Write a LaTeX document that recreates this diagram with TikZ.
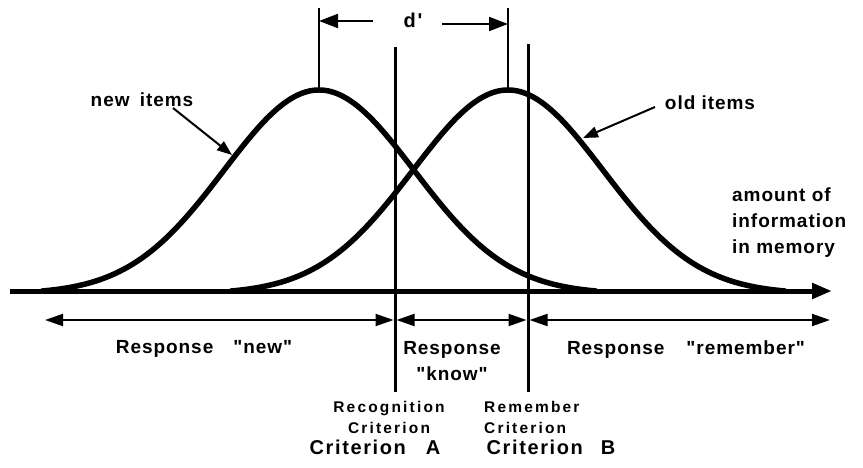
\documentclass[tikz,border=0pt]{standalone}
\usepackage{fontspec}
\newfontfamily\lblfont{Liberation Sans Bold}[LetterSpace=5]
\usetikzlibrary{arrows.meta}

\begin{document}
\begin{tikzpicture}[x=1pt,y=-1pt,>={Triangle[length=15pt,width=11pt]},
    txt/.style={font=\lblfont\fontsize{19}{26}\selectfont,inner sep=0pt},
    smalltxt/.style={font=\lblfont\fontsize{15.5}{21}\selectfont\addfontfeatures{LetterSpace=14},inner sep=0pt},
    bigtxt/.style={font=\lblfont\fontsize{20}{24}\selectfont\addfontfeatures{LetterSpace=8},inner sep=0pt},
    curve/.style={line width=5.5pt,line cap=round},
    critline/.style={line width=3pt},
    rangearrow/.style={line width=2pt,{Triangle[length=18pt,width=12pt]}-{Triangle[length=18pt,width=12pt]}},
    itemarrow/.style={line width=2pt,->}]
  \useasboundingbox (0,0) rectangle (863,468);

  % the two distributions
  \draw[curve] plot[domain=42:596,samples=90,smooth]
    (\x,{291-201*(exp(-0.5*((\x-319)/95)^2)-0.0143)/0.9857});
  \draw[curve] plot[domain=231:785,samples=90,smooth]
    (\x,{291-201*(exp(-0.5*((\x-508)/95)^2)-0.0143)/0.9857});

  % axis
  \coordinate (axL) at (10,291);
  \coordinate (axR) at (832,291);
  \draw[line width=5pt,-{Triangle[length=20pt,width=15pt]}] (axL) -- (axR);
  \node[txt,anchor=north west,align=left] (amount) at (732,188)
    {amount of\\information\\in memory};

  % criteria
  \coordinate (cAtop) at (395,47);
  \coordinate (cAbot) at (395,392);
  \coordinate (cBtop) at (528,44);
  \coordinate (cBbot) at (528,392);
  \draw[critline] (cAtop) -- (cAbot);
  \draw[critline] (cBtop) -- (cBbot);

  % d' between the means
  \coordinate (pkN) at (319,89);
  \coordinate (pkNtop) at (319,8);
  \coordinate (pkO) at (508,89);
  \coordinate (pkOtop) at (508,8);
  \draw[line width=1.2pt] (pkNtop) -- (pkN);
  \draw[line width=1.2pt] (pkOtop) -- (pkO);
  \node[bigtxt] (dprime) at (413,20) {d'};
  \coordinate (dL) at (373,21);
  \coordinate (dR) at (442,24);
  \draw[line width=2pt,-{Triangle[length=19pt,width=14pt]}] (dL) -- (dL -| pkN);
  \draw[line width=2pt,-{Triangle[length=19pt,width=14pt]}] (dR) -- (dR -| pkO);

  % item labels
  \node[txt] (newitems) at (142,100) {new \hspace{4pt}items};
  \coordinate (newtail) at (173,108);
  \coordinate (newtip) at (232,155);
  \draw[itemarrow] (newtail) -- (newtip);
  \node[txt] (olditems) at (710,103) {old items};
  \coordinate (oldtail) at (655,107);
  \coordinate (oldtip) at (583,138);
  \draw[itemarrow] (oldtail) -- (oldtip);

  % response regions
  \coordinate (rL) at (45,320);
  \coordinate (rR) at (830,320);
  \draw[rangearrow,shorten >=1.5pt] (rL) -- (rL -| cAtop);
  \draw[rangearrow,shorten <=1.5pt,shorten >=1.5pt] (rL -| cAtop) -- (rL -| cBtop);
  \draw[rangearrow,shorten <=1.5pt] (rL -| cBtop) -- (rR);
  \node[txt] (respnew) at (204,349) {Response\hspace{20pt}"new"};
  \node[txt,align=center] (respknow) at (452,361) {Response\\"know"};
  \node[txt] (resprem) at (686,350) {Response\hspace{22pt}"remember"};

  % criterion names
  \node[smalltxt,align=center] (recog) at (389,417) {Recognition\\Criterion};
  \node[smalltxt,align=left,anchor=west] (remem) at (484,417) {Remember\\Criterion};
  \node[bigtxt] (critA) at (375,447) {Criterion\hspace{20pt}A};
  \node[bigtxt] (critB) at (551,447) {Criterion\hspace{18pt}B};
\end{tikzpicture}
\end{document}
